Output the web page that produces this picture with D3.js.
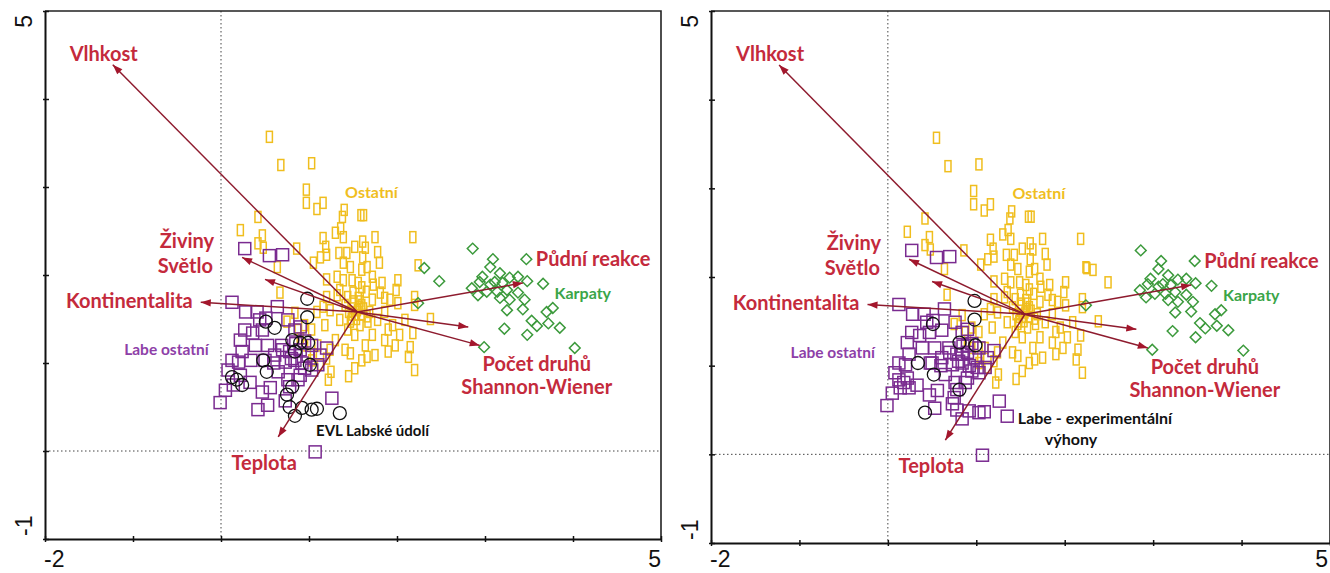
<!DOCTYPE html>
<html>
<head>
<meta charset="utf-8">
<script src="https://cdn.jsdelivr.net/npm/d3@7"></script>
<style>
  body { margin: 0; background: #fff; }
  svg { display: block; }
</style>
</head>
<body>
<svg id="chart" width="1330" height="573"></svg>
<script>
// ordination scores (axis 1 = x, axis 2 = y)

// "Ostatní" sites, same in both panels
const ostatni = [
  [0.55,3.57],[0.68,3.25],[1.03,3.27],[0.97,2.97],[0.97,2.82],[1.09,2.75],[1.16,2.82],[1.40,2.74],
  [1.38,2.66],[1.59,2.68],[1.62,2.68],[0.42,2.66],[0.22,2.51],[0.47,2.45],[0.42,2.36],[0.48,2.31],
  [0.86,2.30],[0.64,2.09],[1.30,2.48],[1.36,2.53],[1.39,2.43],[1.16,2.42],[1.19,2.32],[1.05,2.14],
  [1.13,2.20],[1.20,2.23],[1.34,2.25],[1.39,2.14],[1.43,2.25],[1.52,2.32],[1.61,2.38],[1.64,2.31],
  [1.75,2.43],[1.78,2.26],[1.80,2.14],[1.61,2.20],[1.66,2.09],[1.60,2.06],[1.47,2.09],[1.32,1.98],
  [1.20,1.95],[1.39,1.94],[1.49,1.94],[1.56,1.91],[1.72,1.98],[1.83,1.91],[2.01,1.94],[2.18,2.43],
  [2.24,2.11],[2.20,1.75],[0.67,1.80],[1.20,1.75],[1.32,1.77],[1.50,1.80],[1.81,1.80],[1.92,1.72],
  [2.01,1.68],[2.38,1.50],[1.16,1.64],[1.09,1.58],[2.20,1.66],[2.18,1.34],[2.13,1.07],[2.20,0.92],
  [2.15,1.18],[1.41,1.66],[1.49,1.55],[1.60,1.66],[1.69,1.58],[1.78,1.49],[1.86,1.58],[1.95,1.43],
  [2.03,1.32],[1.86,1.26],[1.72,1.32],[1.64,1.20],[1.75,1.09],[1.90,1.13],[1.98,1.20],[1.58,1.43],
  [1.44,1.38],[1.35,1.49],[1.30,1.26],[1.41,1.15],[1.52,0.94],[1.60,1.03],[1.24,1.15],[1.18,1.43],
  [1.03,1.38],[0.95,1.43],[1.10,1.20],[1.03,1.03],[1.13,0.98],[0.90,1.28],[1.44,1.75],[1.56,1.74],
  [1.65,1.81],[1.72,1.72],[1.86,1.74],[1.35,1.83],[1.24,1.60],[1.52,1.32],[1.67,1.47],[1.47,1.47],
  [2.09,1.49],[1.99,1.83],[1.90,1.38],[1.73,1.89],[1.60,1.86],[1.55,1.60],[1.52,1.55],[1.60,1.55],
  [1.57,1.64],[1.50,1.62],[1.62,1.62],[1.54,1.50],[1.45,1.58],[1.66,1.53],[1.58,1.70],[1.50,1.70],
  [1.48,1.50],[0.84,1.57],[0.75,1.47],[0.875,1.375],[0.95,1.20],[1.05,1.10],[1.20,1.05],[1.25,0.90],
  [1.45,0.85],[1.22,0.81],[1.66,1.07],[1.47,1.11]
];
// sites drawn as Ostatní only in the right panel
const ostatniRightOnly = [[2.25,2.10],[2.32,2.08],[2.49,1.94]];

// Karpaty sites
const karpaty = [
  [2.86,2.30],[2.24,1.68],[3.09,2.18],[3.47,2.18],[3.06,2.09],[2.97,1.98],[3.17,2.02],[3.28,1.97],
  [3.375,1.98],[2.85,1.85],[3.02,1.81],[3.14,1.81],[3.20,1.91],[3.25,1.83],[3.28,1.72],[3.375,1.80],
  [3.45,1.72],[3.48,1.93],[3.66,1.90],[2.94,1.92],[3.25,1.60],[3.43,1.61],[3.70,1.58],[3.77,1.625],
  [3.53,1.48],[3.59,1.42],[3.72,1.45],[3.85,1.40],[3.22,1.39],[3.48,1.32],[2.99,1.18],[4.02,1.17],
  [3.11,1.92],[3.06,1.89],[3.17,1.74],[2.92,1.77]
];
const karpatyLeftOnly = [[2.31,2.08],[2.48,1.93]];

// Labe sites: squares in both panels
const labeShared = [
  [0.27,2.30],[0.55,2.22],[0.70,2.23],[0.125,1.69],[0.28,1.58],[0.41,1.58],[0.51,1.51],[0.44,1.49],
  [0.64,1.64],[0.36,1.34],[0.39,1.20],[0.24,1.13],[0.125,1.03],[0.08,0.92],[0.20,1.01],[-0.01,0.55],
  [0.53,0.52],[0.76,0.81],[0.78,0.73],[0.875,0.81],[1.03,0.92],[1.26,0.60],[1.07,-0.01],[0.90,1.41],
  [1.20,1.17],[1.10,0.98],[0.69,1.20],[0.78,1.13],[0.90,1.15],[0.99,1.09],[0.84,1.03],[0.73,1.01],
  [0.61,1.09],[0.53,1.20],[0.50,1.03],[1.03,1.20],[1.125,1.09],[0.95,0.94],[0.65,0.90],[0.90,0.86],
  [0.27,1.375],[0.22,1.26],[0.47,1.375],[0.76,1.49],[0.84,1.375],[0.22,0.86],[0.14,0.75],[0.33,0.78],
  [0.05,0.69],[0.73,0.57],[0.47,0.67],[0.56,0.72],[0.70,1.15],[0.80,1.05],[0.92,1.00],[0.60,1.00],
  [0.85,1.22],[0.95,1.25]
];
// Labe sites: circles in both panels
const circleShared = [[0.98,1.73],[0.98,1.52],[0.51,1.47],[0.81,1.26],[0.99,1.23],[0.52,0.90],[0.81,0.73]];
// circles only in the left panel (EVL Labské údolí)
const evlOnly = [
  [0.61,1.40],[0.90,1.23],[0.84,1.13],[0.125,0.84],[0.18,0.81],[0.24,0.75],[0.75,0.64],[0.78,0.50],
  [0.84,0.40],[0.92,0.49],[1.03,0.47],[1.09,0.48],[1.35,0.43],[0.48,1.03],[1.01,0.98]
];
// circles only in the right panel (experimentální výhony)
const vyhonyOnly = [[0.34,1.03],[0.42,0.47]];

// environmental arrows
const arrowOrigin = [1.55, 1.58];
const arrowNames = ['Vlhkost', 'Živiny', 'Světlo', 'Kontinentalita', 'Půdní reakce', 'Shannon-Wiener', 'Počet druhů', 'Teplota'];
const arrowTips = [[-1.23,4.39],[0.24,2.20],[0.50,1.95],[-0.23,1.69],[3.43,1.91],[2.81,1.41],[2.94,1.20],[0.65,0.16]];

const xTicks = [-2, -1, 0, 1, 2, 3, 4, 5];
const yTicks = [-1, 0, 1, 2, 3, 4, 5];

const RED = '#c42a3c';
const ARROW = '#8e1b2e';
const YELLOW = '#f0be1e';
const PURPLE = '#7a2b90';
const GREEN = '#3c9a3c';

const svg = d3.select('#chart');

svg.append('defs').append('marker')
    .attr('id', 'head')
    .attr('viewBox', '0 -5 10 10')
    .attr('refX', 10)
    .attr('refY', 0)
    .attr('markerUnits', 'userSpaceOnUse')
    .attr('markerWidth', 12)
    .attr('markerHeight', 10)
    .attr('orient', 'auto')
  .append('path')
    .attr('d', 'M0,-3.6L10,0L0,3.6Z')
    .attr('fill', '#a3162c');

// label placement relative to arrow tips (pixels)
const arrowLabels = [
  { i: 0, lines: ['Vlhkost'], dx: -9, dy: -4, anchor: 'middle' },
  { i: 1, lines: ['Živiny'], dx: -28, dy: -9, anchor: 'end' },
  { i: 2, lines: ['Světlo'], dx: -52, dy: -6, anchor: 'end' },
  { i: 3, lines: ['Kontinentalita'], dx: -8, dy: 6, anchor: 'end' },
  { i: 4, lines: ['Půdní reakce'], dx: 13, dy: -17, anchor: 'start' },
  { i: 6, lines: ['Počet druhů', 'Shannon-Wiener'], dx: 57, dy: 26, anchor: 'middle' },
  { i: 7, lines: ['Teplota'], dx: -14, dy: 33, anchor: 'middle' }
];

function drawPanel(p) {
  const x = d3.scaleLinear().domain([-2, 5]).range([p.left, p.right]);
  const y = d3.scaleLinear().domain([-1, 5]).range([p.bottom, p.top]);
  const g = svg.append('g');

  // dotted zero lines
  g.append('line')
      .attr('x1', x(0)).attr('x2', x(0)).attr('y1', y(5)).attr('y2', y(-1))
      .attr('stroke', '#444').attr('stroke-width', 1).attr('stroke-dasharray', '1.5,2.5');
  g.append('line')
      .attr('x1', x(-2)).attr('x2', x(5)).attr('y1', y(0)).attr('y2', y(0))
      .attr('stroke', '#444').attr('stroke-width', 1).attr('stroke-dasharray', '1.5,2.5');

  // frame top + right
  g.append('path')
      .attr('d', 'M' + x(-2) + ',' + y(5) + 'H' + x(5) + 'V' + y(-1))
      .attr('fill', 'none').attr('stroke', '#222').attr('stroke-width', 1.6);

  const xa = g.append('g')
      .attr('transform', 'translate(0,' + y(-1) + ')')
      .call(d3.axisBottom(x).tickValues(xTicks).tickFormat('').tickSizeOuter(0));
  const ya = g.append('g')
      .attr('transform', 'translate(' + x(-2) + ',0)')
      .call(d3.axisLeft(y).tickValues(yTicks).tickFormat('').tickSizeOuter(0));
  xa.selectAll('.tick line').attr('y1', -3).attr('y2', 3);
  ya.selectAll('.tick line').attr('x1', -2).attr('x2', 4);
  [xa, ya].forEach(a => {
    a.select('.domain').attr('stroke', '#111').attr('stroke-width', 2);
    a.selectAll('.tick line').attr('stroke', '#111').attr('stroke-width', 1.5);
  });

  // end labels only
  const tl = g.append('g')
      .attr('font-family', 'Liberation Sans, Arial, sans-serif')
      .attr('font-size', 23).attr('fill', '#111');
  tl.append('text').attr('x', x(-2) - 1).attr('y', 567).text('-2');
  tl.append('text').attr('x', Math.min(x(5), 1328)).attr('y', 567).attr('text-anchor', 'end').text('5');
  tl.append('text')
      .attr('transform', 'translate(' + (x(-2) - 13) + ',' + (y(5) + 4) + ') rotate(-90)')
      .attr('text-anchor', 'end').text('5');
  tl.append('text')
      .attr('transform', 'translate(' + (x(-2) - 13) + ',' + (y(-1) - 3) + ') rotate(-90)')
      .text('-1');

  // Ostatní (yellow rectangles)
  g.append('g').selectAll('rect')
    .data(p.yellow)
    .join('rect')
      .attr('x', d => x(d[0]) - 3)
      .attr('y', d => y(d[1]) - 5.5)
      .attr('width', 6).attr('height', 11)
      .attr('fill', 'none').attr('stroke', YELLOW).attr('stroke-width', 1.5);

  // Karpaty (green diamonds)
  g.append('g').selectAll('path')
    .data(p.green)
    .join('path')
      .attr('d', d3.symbol().type(d3.symbolSquare).size(58))
      .attr('transform', d => 'translate(' + x(d[0]) + ',' + y(d[1]) + ') rotate(45)')
      .attr('fill', 'none').attr('stroke', GREEN).attr('stroke-width', 1.5);

  // Labe ostatní (purple squares)
  g.append('g').selectAll('rect')
    .data(p.purple)
    .join('rect')
      .attr('x', d => x(d[0]) - 6)
      .attr('y', d => y(d[1]) - 6)
      .attr('width', 12).attr('height', 12)
      .attr('fill', 'none').attr('stroke', PURPLE).attr('stroke-width', 1.5);

  // circles
  g.append('g').selectAll('circle')
    .data(p.circles)
    .join('circle')
      .attr('cx', d => x(d[0]))
      .attr('cy', d => y(d[1]))
      .attr('r', 6.5)
      .attr('fill', 'none').attr('stroke', '#111').attr('stroke-width', 1.3);

  // arrows
  g.append('g').selectAll('line')
    .data(arrowTips)
    .join('line')
      .attr('x1', x(arrowOrigin[0])).attr('y1', y(arrowOrigin[1]))
      .attr('x2', d => x(d[0])).attr('y2', d => y(d[1]))
      .attr('stroke', ARROW).attr('stroke-width', 1.5)
      .attr('marker-end', 'url(#head)');

  const lab = g.append('g')
      .attr('font-family', 'Lato, sans-serif').attr('font-weight', 700)
      .attr('font-size', 20).attr('fill', RED);
  arrowLabels.forEach(a => {
    const t = arrowTips[a.i];
    a.lines.forEach((s, k) => {
      lab.append('text')
          .attr('x', x(t[0]) + a.dx)
          .attr('y', y(t[1]) + a.dy + k * 23)
          .attr('text-anchor', a.anchor)
          .text(s);
    });
  });

  // group labels
  const gl = g.append('g').attr('font-family', 'Lato, sans-serif').attr('font-weight', 700);
  gl.append('text').attr('x', x(1.41)).attr('y', y(2.875)).attr('font-size', 16).attr('fill', YELLOW).text('Ostatní');
  gl.append('text').attr('x', x(3.79)).attr('y', y(1.73)).attr('font-size', 16).attr('fill', '#3aa548').text('Karpaty');
  gl.append('text').attr('x', x(-1.1)).attr('y', y(1.09)).attr('font-size', 15.5).attr('fill', '#8e3fa8').text('Labe ostatní');
  p.blackLabel.forEach((s, k) => {
    gl.append('text')
        .attr('x', x(p.blackAt[0]) + k * p.indent)
        .attr('y', y(p.blackAt[1]) + k * 21)
        .attr('font-size', p.blackSize).attr('fill', '#111').text(s);
  });
}

drawPanel({
  left: 45, right: 661, top: 11, bottom: 539,
  yellow: ostatni,
  green: karpaty.concat(karpatyLeftOnly),
  purple: labeShared.concat(vyhonyOnly),
  circles: circleShared.concat(evlOnly),
  blackLabel: ['EVL Labské údolí'], blackAt: [1.08, 0.17], indent: 0, blackSize: 15
});

drawPanel({
  left: 711, right: 1330, top: 11, bottom: 543,
  yellow: ostatni.concat(ostatniRightOnly),
  green: karpaty,
  purple: labeShared.concat(evlOnly),
  circles: circleShared.concat(vyhonyOnly),
  blackLabel: ['Labe - experimentální', 'výhony'], blackAt: [1.47, 0.34], indent: 27, blackSize: 16
});
</script>
</body>
</html>
